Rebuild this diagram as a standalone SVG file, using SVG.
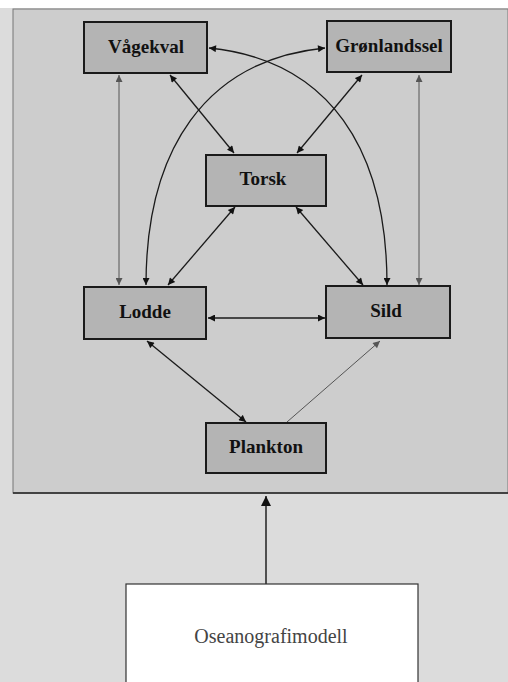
<svg xmlns="http://www.w3.org/2000/svg" width="508" height="682" viewBox="0 0 508 682">
<defs>
<marker id="ah" viewBox="0 0 10 10" refX="10" refY="5" markerWidth="9" markerHeight="7" markerUnits="userSpaceOnUse" orient="auto-start-reverse">
<path d="M0,0 L10,5 L0,10 z" fill="#111"/>
</marker>
<marker id="ahl" viewBox="0 0 10 10" refX="10" refY="5" markerWidth="9" markerHeight="7" markerUnits="userSpaceOnUse" orient="auto-start-reverse">
<path d="M0,0 L10,5 L0,10 z" fill="#555"/>
</marker>
<marker id="big" viewBox="0 0 10 10" refX="10" refY="5" markerWidth="14" markerHeight="10" markerUnits="userSpaceOnUse" orient="auto">
<path d="M0,0 L10,5 L0,10 z" fill="#111"/>
</marker>
</defs>
<style>
.node rect{fill:#b4b4b4;stroke:#1a1a1a;stroke-width:2}
.node text{font-family:"Liberation Serif",serif;font-size:19px;font-weight:bold;fill:#111;text-anchor:middle}
.c{fill:none;stroke:#1a1a1a;stroke-width:1.3;marker-start:url(#ah);marker-end:url(#ah)}
.cl{fill:none;stroke:#555;stroke-width:1;marker-start:url(#ahl);marker-end:url(#ahl)}
</style>
<rect x="0" y="0" width="508" height="682" fill="#dcdcdc"/>
<rect x="0" y="0" width="508" height="8" fill="#ffffff"/>
<rect x="13" y="9" width="495" height="484" fill="#cdcdcd" stroke="#777" stroke-width="1"/>
<line x1="13" y1="493" x2="508" y2="493" stroke="#222" stroke-width="1.5"/>
<g id="connectors">
<line class="c" x1="170" y1="75" x2="234" y2="153"/>
<line class="c" x1="362" y1="75" x2="297" y2="153"/>
<line class="c" x1="235" y1="207" x2="168" y2="285"/>
<line class="c" x1="296" y1="207" x2="363" y2="285"/>
<line class="cl" x1="119" y1="75" x2="119" y2="285"/>
<line class="cl" x1="419" y1="75" x2="419" y2="285"/>
<path class="c" d="M209,48 C330,60 387,150 387,285"/>
<path class="c" d="M325,48 C205,60 146,150 146,285"/>
<line class="c" x1="208" y1="318" x2="325" y2="318"/>
<line class="c" x1="147" y1="341" x2="246" y2="422"/>
<line x1="287" y1="422" x2="380" y2="341" stroke="#555" stroke-width="1" marker-end="url(#ahl)"/>
<line x1="266" y1="584" x2="266" y2="496" stroke="#222" stroke-width="1.5" marker-end="url(#big)"/>
</g>
<g id="vagekval" class="node"><rect x="84" y="22" width="123" height="51"/><text x="146" y="53">Vågekval</text></g>
<g id="gronlandssel" class="node"><rect x="327" y="21" width="124" height="51"/><text x="389" y="52">Grønlandssel</text></g>
<g id="torsk" class="node"><rect x="206" y="155" width="120" height="51"/><text x="263" y="185">Torsk</text></g>
<g id="lodde" class="node"><rect x="84" y="287" width="122" height="52"/><text x="145" y="318">Lodde</text></g>
<g id="sild" class="node"><rect x="326" y="286" width="124" height="52"/><text x="386" y="317">Sild</text></g>
<g id="plankton" class="node"><rect x="206" y="423" width="120" height="50"/><text x="266" y="453">Plankton</text></g>
<g id="oseanografimodell"><rect x="126" y="584" width="292" height="110" fill="#ffffff" stroke="#333" stroke-width="1.2"/><text x="271" y="643" font-family="Liberation Serif,serif" font-size="20" fill="#444" text-anchor="middle">Oseanografimodell</text></g>
</svg>
